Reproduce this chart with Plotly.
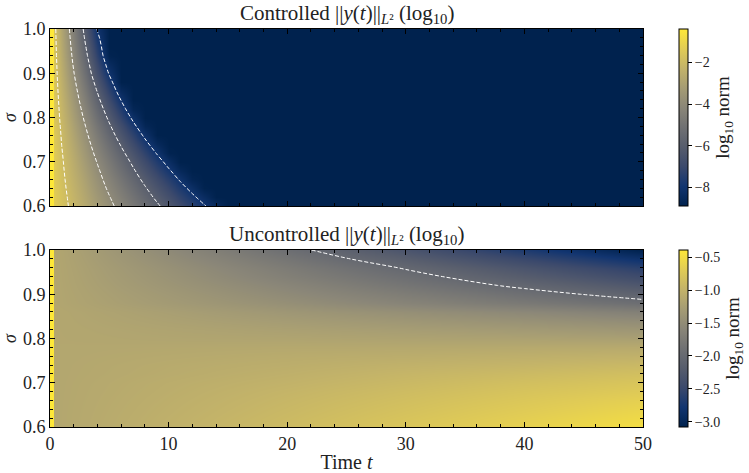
import plotly.graph_objects as go

# sigma rows (bottom to top)
sigma = [0.60, 0.62, 0.64, 0.66, 0.68, 0.70, 0.72, 0.74, 0.76, 0.78, 0.80,
         0.82, 0.84, 0.86, 0.88, 0.90, 0.92, 0.94, 0.96, 0.98, 1.00]

t_ctrl = [0, 0.27, 0.33, 1, 2, 3, 4, 5, 6, 7, 8, 9, 10, 11, 12, 13, 14, 15, 50]
t_unc = [0, 0.27, 0.33, 10, 20, 30, 40, 50]

# log10 ||y(t)|| controlled (rows follow sigma)
z_ctrl = [
    [-0.39, -0.39, -1.36, -1.72, -2.23, -2.75, -3.27, -3.79, -4.30, -4.82, -5.34, -5.85, -6.37, -6.89, -7.40, -7.92, -8.44, -8.90, -8.90],
    [-0.39, -0.39, -1.37, -1.75, -2.30, -2.86, -3.41, -3.96, -4.51, -5.06, -5.62, -6.17, -6.72, -7.27, -7.82, -8.38, -8.90, -8.90, -8.90],
    [-0.39, -0.39, -1.38, -1.79, -2.38, -2.97, -3.56, -4.15, -4.73, -5.32, -5.91, -6.50, -7.09, -7.68, -8.27, -8.86, -8.90, -8.90, -8.90],
    [-0.39, -0.39, -1.39, -1.83, -2.46, -3.08, -3.71, -4.34, -4.97, -5.60, -6.22, -6.85, -7.48, -8.11, -8.74, -8.90, -8.90, -8.90, -8.90],
    [-0.39, -0.39, -1.40, -1.87, -2.54, -3.20, -3.87, -4.54, -5.21, -5.88, -6.54, -7.21, -7.88, -8.55, -8.90, -8.90, -8.90, -8.90, -8.90],
    [-0.39, -0.39, -1.41, -1.91, -2.62, -3.34, -4.05, -4.76, -5.47, -6.18, -6.90, -7.61, -8.32, -8.90, -8.90, -8.90, -8.90, -8.90, -8.90],
    [-0.39, -0.39, -1.43, -1.96, -2.72, -3.49, -4.25, -5.01, -5.77, -6.53, -7.30, -8.06, -8.82, -8.90, -8.90, -8.90, -8.90, -8.90, -8.90],
    [-0.39, -0.39, -1.45, -2.02, -2.83, -3.65, -4.46, -5.28, -6.09, -6.91, -7.72, -8.54, -8.90, -8.90, -8.90, -8.90, -8.90, -8.90, -8.90],
    [-0.39, -0.39, -1.46, -2.07, -2.95, -3.82, -4.69, -5.57, -6.44, -7.31, -8.18, -8.90, -8.90, -8.90, -8.90, -8.90, -8.90, -8.90, -8.90],
    [-0.39, -0.39, -1.48, -2.13, -3.07, -4.00, -4.94, -5.87, -6.80, -7.74, -8.67, -8.90, -8.90, -8.90, -8.90, -8.90, -8.90, -8.90, -8.90],
    [-0.39, -0.39, -1.50, -2.20, -3.20, -4.20, -5.20, -6.20, -7.20, -8.20, -8.90, -8.90, -8.90, -8.90, -8.90, -8.90, -8.90, -8.90, -8.90],
    [-0.39, -0.39, -1.52, -2.27, -3.34, -4.40, -5.47, -6.54, -7.61, -8.68, -8.90, -8.90, -8.90, -8.90, -8.90, -8.90, -8.90, -8.90, -8.90],
    [-0.39, -0.39, -1.54, -2.34, -3.48, -4.62, -5.76, -6.90, -8.04, -8.90, -8.90, -8.90, -8.90, -8.90, -8.90, -8.90, -8.90, -8.90, -8.90],
    [-0.39, -0.39, -1.56, -2.42, -3.63, -4.85, -6.06, -7.28, -8.49, -8.90, -8.90, -8.90, -8.90, -8.90, -8.90, -8.90, -8.90, -8.90, -8.90],
    [-0.39, -0.39, -1.59, -2.49, -3.79, -5.08, -6.38, -7.67, -8.90, -8.90, -8.90, -8.90, -8.90, -8.90, -8.90, -8.90, -8.90, -8.90, -8.90],
    [-0.39, -0.39, -1.61, -2.58, -3.95, -5.33, -6.71, -8.09, -8.90, -8.90, -8.90, -8.90, -8.90, -8.90, -8.90, -8.90, -8.90, -8.90, -8.90],
    [-0.39, -0.39, -1.63, -2.65, -4.10, -5.54, -6.99, -8.44, -8.90, -8.90, -8.90, -8.90, -8.90, -8.90, -8.90, -8.90, -8.90, -8.90, -8.90],
    [-0.39, -0.39, -1.66, -2.72, -4.24, -5.76, -7.28, -8.80, -8.90, -8.90, -8.90, -8.90, -8.90, -8.90, -8.90, -8.90, -8.90, -8.90, -8.90],
    [-0.39, -0.39, -1.68, -2.79, -4.37, -5.96, -7.54, -8.90, -8.90, -8.90, -8.90, -8.90, -8.90, -8.90, -8.90, -8.90, -8.90, -8.90, -8.90],
    [-0.39, -0.39, -1.70, -2.85, -4.50, -6.16, -7.81, -8.90, -8.90, -8.90, -8.90, -8.90, -8.90, -8.90, -8.90, -8.90, -8.90, -8.90, -8.90],
    [-0.39, -0.39, -1.72, -2.92, -4.63, -6.35, -8.06, -8.90, -8.90, -8.90, -8.90, -8.90, -8.90, -8.90, -8.90, -8.90, -8.90, -8.90, -8.90],
]

# log10 ||y(t)|| uncontrolled (rows follow sigma)
z_unc = [
    [-0.39, -0.39, -1.15, -1.02, -0.89, -0.76, -0.63, -0.50],
    [-0.39, -0.39, -1.15, -1.03, -0.91, -0.79, -0.67, -0.55],
    [-0.39, -0.39, -1.15, -1.04, -0.93, -0.82, -0.71, -0.60],
    [-0.39, -0.39, -1.15, -1.05, -0.95, -0.85, -0.75, -0.65],
    [-0.39, -0.39, -1.15, -1.06, -0.97, -0.88, -0.79, -0.71],
    [-0.39, -0.39, -1.15, -1.07, -1.00, -0.92, -0.84, -0.77],
    [-0.39, -0.39, -1.15, -1.09, -1.03, -0.96, -0.90, -0.84],
    [-0.39, -0.39, -1.15, -1.10, -1.06, -1.01, -0.97, -0.92],
    [-0.39, -0.39, -1.15, -1.12, -1.09, -1.07, -1.04, -1.01],
    [-0.39, -0.39, -1.15, -1.14, -1.13, -1.13, -1.12, -1.11],
    [-0.39, -0.39, -1.15, -1.17, -1.18, -1.20, -1.21, -1.23],
    [-0.39, -0.39, -1.15, -1.19, -1.23, -1.27, -1.31, -1.36],
    [-0.39, -0.39, -1.15, -1.22, -1.29, -1.36, -1.43, -1.50],
    [-0.39, -0.39, -1.15, -1.25, -1.36, -1.46, -1.56, -1.67],
    [-0.39, -0.39, -1.16, -1.31, -1.46, -1.62, -1.77, -1.93],
    [-0.39, -0.39, -1.16, -1.34, -1.53, -1.72, -1.91, -2.10],
    [-0.39, -0.39, -1.16, -1.38, -1.60, -1.83, -2.05, -2.28],
    [-0.39, -0.39, -1.16, -1.41, -1.67, -1.92, -2.18, -2.44],
    [-0.39, -0.39, -1.16, -1.44, -1.73, -2.02, -2.31, -2.60],
    [-0.39, -0.39, -1.16, -1.49, -1.82, -2.16, -2.49, -2.83],
    [-0.39, -0.39, -1.16, -1.54, -1.92, -2.31, -2.69, -3.08],
]

ctrl_levels = dict(start=-8, end=-2, size=2)
unc_levels = dict(start=-2, end=-2, size=1)

FONT = "Liberation Serif"
W, H = 749, 473
ML, MR, MT, MB = 50, 106, 29, 46
PH = H - MT - MB
top_dom = [(H - MB - 206) / PH, 1.0]
bot_dom = [0.0, (H - MB - 250) / PH]
cb_x = (679 - ML) / (W - ML - MR)

NORM = "||<i>y</i>(<i>t</i>)||<sub><i>L</i>²</sub> (log<sub>10</sub>)"


def cbar(dom, dtick, fmt):
    return dict(
        x=cb_x, xanchor="left", xpad=0, ypad=0,
        y=(dom[0] + dom[1]) / 2, yanchor="middle",
        len=dom[1] - dom[0], lenmode="fraction", thickness=9,
        outlinewidth=1, outlinecolor="black",
        ticks="outside", ticklen=4, tickcolor="black",
        dtick=dtick, tick0=0, tickformat=fmt,
        tickfont=dict(family=FONT, size=14, color="#222"),
        title=dict(text="log<sub>10</sub> norm", side="right",
                   font=dict(family=FONT, size=19, color="#222")),
    )


fig = go.Figure()
fig.add_trace(go.Heatmap(x=t_ctrl, y=sigma, z=z_ctrl, colorscale="Cividis",
                         zsmooth="best", xaxis="x", yaxis="y",
                         colorbar=cbar(top_dom, 2, "d"), hoverinfo="skip"))
fig.add_trace(go.Contour(x=t_ctrl, y=sigma, z=z_ctrl, autocontour=False,
                         contours=dict(coloring="none", **ctrl_levels),
                         line=dict(color="white", width=1, dash="4px,2px"),
                         showscale=False, xaxis="x", yaxis="y", hoverinfo="skip"))
fig.add_trace(go.Heatmap(x=t_unc, y=sigma, z=z_unc, colorscale="Cividis",
                         zsmooth="best", xaxis="x2", yaxis="y2",
                         colorbar=cbar(bot_dom, 0.5, ".1f"), hoverinfo="skip"))
fig.add_trace(go.Contour(x=t_unc, y=sigma, z=z_unc, autocontour=False,
                         contours=dict(coloring="none", **unc_levels),
                         line=dict(color="white", width=1, dash="4px,2px"),
                         showscale=False, xaxis="x2", yaxis="y2", hoverinfo="skip"))

axis_common = dict(
    showline=True, linecolor="black", linewidth=1, mirror="allticks",
    ticks="inside", ticklen=5, tickcolor="black", showgrid=False, zeroline=False,
    automargin=False,
    tickfont=dict(family=FONT, size=18, color="#222"),
)

fig.update_layout(
    width=W, height=H, margin=dict(l=ML, r=MR, t=MT, b=MB, autoexpand=False),
    paper_bgcolor="white", plot_bgcolor="white", showlegend=False,
    font=dict(family=FONT, color="#222"),
    xaxis=dict(domain=[0, 1], anchor="y", range=[0, 50], dtick=10,
               showticklabels=False,
               minor=dict(ticks="inside", ticklen=3, dtick=2, tickcolor="black"),
               **axis_common),
    yaxis=dict(domain=top_dom, anchor="x", range=[0.6, 1.0], dtick=0.1,
               tickformat=".1f",
               minor=dict(ticks="inside", ticklen=3, dtick=0.02, tickcolor="black"),
               title=dict(text="<i>σ</i>", font=dict(family=FONT, size=18), standoff=7),
               **axis_common),
    xaxis2=dict(domain=[0, 1], anchor="y2", range=[0, 50], dtick=10,
                minor=dict(ticks="inside", ticklen=3, dtick=2, tickcolor="black"),
                title=dict(text="Time <i>t</i>", font=dict(family=FONT, size=20), standoff=3),
                **axis_common),
    yaxis2=dict(domain=bot_dom, anchor="x2", range=[0.6, 1.0], dtick=0.1,
                tickformat=".1f",
                minor=dict(ticks="inside", ticklen=3, dtick=0.02, tickcolor="black"),
                title=dict(text="<i>σ</i>", font=dict(family=FONT, size=18), standoff=7),
                **axis_common),
    annotations=[
        dict(text="Controlled " + NORM,
             x=0.5, y=top_dom[1], xref="paper", yref="paper",
             xanchor="center", yanchor="bottom", showarrow=False,
             font=dict(family=FONT, size=21, color="#222")),
        dict(text="Uncontrolled " + NORM,
             x=0.5, y=bot_dom[1], xref="paper", yref="paper",
             xanchor="center", yanchor="bottom", showarrow=False,
             font=dict(family=FONT, size=21, color="#222")),
    ],
)

fig.write_html("out.html")
